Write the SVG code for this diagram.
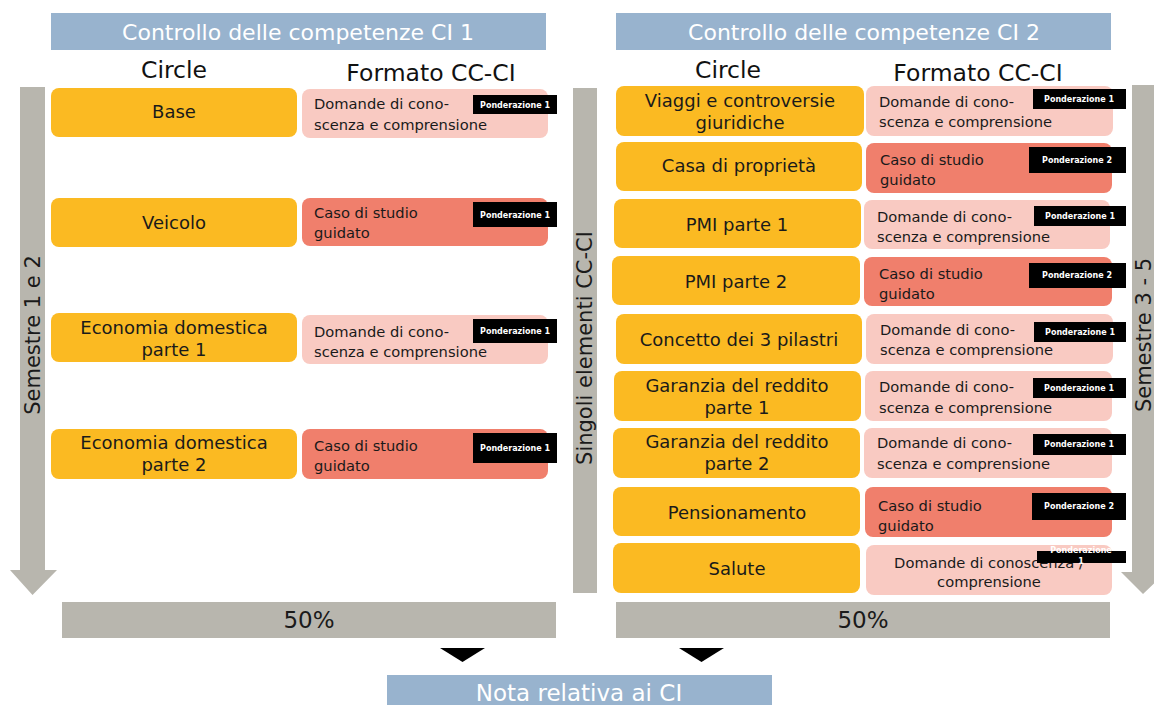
<svg xmlns="http://www.w3.org/2000/svg" width="1154" height="705" viewBox="0 0 1154 705">
<style>
.hdr{fill:#98B3CE}
.hdrt{font-family:"DejaVu Sans",sans-serif;font-size:22px;fill:#ffffff;text-anchor:middle}
.col{font-family:"DejaVu Sans",sans-serif;font-size:23.5px;fill:#111;text-anchor:middle}
.or{fill:#FBBA22}
.pk{fill:#F9CAC2}
.sa{fill:#F07F6C}
.ot{font-family:"DejaVu Sans",sans-serif;font-size:18px;fill:#1a1a1a;text-anchor:middle}
.pt{font-family:"DejaVu Sans",sans-serif;font-size:14.7px;fill:#1a1a1a}
.tag{fill:#000}
.tt{font-family:"DejaVu Sans",sans-serif;font-size:8px;font-weight:bold;fill:#fff;text-anchor:middle}
.gr{fill:#B8B6AE}
.vt{font-family:"DejaVu Sans",sans-serif;font-size:21px;fill:#1a1a1a;text-anchor:middle}
.big{font-family:"DejaVu Sans",sans-serif;font-size:23px;fill:#1a1a1a;text-anchor:middle}
.nt{font-family:"DejaVu Sans",sans-serif;font-size:23px;fill:#ffffff;text-anchor:middle}
</style>

<g id="background-arrows">
  <polygon class="gr" points="20,87 45,87 45,570 57,570 32.5,595 10,570 20,570"/>
  <rect class="gr" x="573" y="88" width="24" height="505"/>
  <polygon class="gr" points="1132,85 1155,85 1155,572 1166,572 1143,594 1121,572 1132,572"/>
  <text class="vt" transform="translate(40,335) rotate(-90)">Semestre 1 e 2</text>
  <text class="vt" transform="translate(592,348) rotate(-90)">Singoli elementi CC-CI</text>
  <text class="vt" transform="translate(1151,335) rotate(-90)">Semestre 3 - 5</text>
</g>

<g id="header-ci1">
  <rect class="hdr" x="51" y="13" width="495" height="37"/>
  <text class="hdrt" x="298" y="40">Controllo delle competenze CI 1</text>
  <text class="col" x="174" y="78">Circle</text>
  <text class="col" x="431" y="81">Formato CC-CI</text>
</g>
<g id="header-ci2">
  <rect class="hdr" x="616" y="13" width="495" height="37"/>
  <text class="hdrt" x="864" y="40">Controllo delle competenze CI 2</text>
  <text class="col" x="728" y="78">Circle</text>
  <text class="col" x="978" y="81">Formato CC-CI</text>
</g>

<!-- CI 1 rows -->
<g id="ci1-base">
  <rect class="or" x="51" y="88" width="246" height="49" rx="8"/>
  <text class="ot" x="174" y="118">Base</text>
  <rect class="pk" x="302" y="89" width="246" height="49" rx="8"/>
  <text class="pt" x="314" y="109">Domande di cono-</text>
  <text class="pt" x="314" y="130">scenza e comprensione</text>
  <rect class="tag" x="473" y="95" width="84" height="19"/>
  <text class="tt" x="515" y="108">Ponderazione 1</text>
</g>
<g id="ci1-veicolo">
  <rect class="or" x="51" y="198" width="246" height="49" rx="8"/>
  <text class="ot" x="174" y="229">Veicolo</text>
  <rect class="sa" x="302" y="198" width="246" height="48" rx="8"/>
  <text class="pt" x="314" y="218">Caso di studio</text>
  <text class="pt" x="314" y="238">guidato</text>
  <rect class="tag" x="473" y="202" width="84" height="25"/>
  <text class="tt" x="515" y="218">Ponderazione 1</text>
</g>
<g id="ci1-eco1">
  <rect class="or" x="51" y="313" width="246" height="49" rx="8"/>
  <text class="ot" x="174" y="334">Economia domestica</text>
  <text class="ot" x="174" y="356">parte 1</text>
  <rect class="pk" x="302" y="315" width="246" height="49" rx="8"/>
  <text class="pt" x="314" y="337">Domande di cono-</text>
  <text class="pt" x="314" y="357">scenza e comprensione</text>
  <rect class="tag" x="473" y="319" width="84" height="24"/>
  <text class="tt" x="515" y="334">Ponderazione 1</text>
</g>
<g id="ci1-eco2">
  <rect class="or" x="51" y="429" width="246" height="50" rx="8"/>
  <text class="ot" x="174" y="449">Economia domestica</text>
  <text class="ot" x="174" y="471">parte 2</text>
  <rect class="sa" x="302" y="429" width="246" height="50" rx="8"/>
  <text class="pt" x="314" y="451">Caso di studio</text>
  <text class="pt" x="314" y="471">guidato</text>
  <rect class="tag" x="473" y="433" width="84" height="30"/>
  <text class="tt" x="515" y="451">Ponderazione 1</text>
</g>

<!-- CI 2 rows -->
<g id="ci2-viaggi">
  <rect class="or" x="616" y="86" width="248" height="50" rx="8"/>
  <text class="ot" x="740" y="107">Viaggi e controversie</text>
  <text class="ot" x="740" y="129">giuridiche</text>
  <rect class="pk" x="866" y="86" width="247" height="50" rx="8"/>
  <text class="pt" x="879" y="107">Domande di cono-</text>
  <text class="pt" x="879" y="127">scenza e comprensione</text>
  <rect class="tag" x="1033" y="89" width="93" height="20"/>
  <text class="tt" x="1079" y="102">Ponderazione 1</text>
</g>
<g id="ci2-casa">
  <rect class="or" x="616" y="142" width="246" height="49" rx="8"/>
  <text class="ot" x="739" y="172">Casa di proprietà</text>
  <rect class="sa" x="866" y="143" width="246" height="50" rx="8"/>
  <text class="pt" x="880" y="165">Caso di studio</text>
  <text class="pt" x="880" y="185">guidato</text>
  <rect class="tag" x="1029" y="147" width="97" height="26"/>
  <text class="tt" x="1077" y="163">Ponderazione 2</text>
</g>
<g id="ci2-pmi1">
  <rect class="or" x="614" y="199" width="247" height="49" rx="8"/>
  <text class="ot" x="737" y="231">PMI parte 1</text>
  <rect class="pk" x="864" y="200" width="246" height="49" rx="8"/>
  <text class="pt" x="877" y="222">Domande di cono-</text>
  <text class="pt" x="877" y="242">scenza e comprensione</text>
  <rect class="tag" x="1034" y="206" width="92" height="20"/>
  <text class="tt" x="1080" y="219">Ponderazione 1</text>
</g>
<g id="ci2-pmi2">
  <rect class="or" x="612" y="256" width="248" height="49" rx="8"/>
  <text class="ot" x="736" y="288">PMI parte 2</text>
  <rect class="sa" x="864" y="257" width="248" height="49" rx="8"/>
  <text class="pt" x="879" y="279">Caso di studio</text>
  <text class="pt" x="879" y="299">guidato</text>
  <rect class="tag" x="1029" y="263" width="97" height="25"/>
  <text class="tt" x="1077" y="278">Ponderazione 2</text>
</g>
<g id="ci2-concetto">
  <rect class="or" x="616" y="314" width="246" height="50" rx="8"/>
  <text class="ot" x="739" y="346">Concetto dei 3 pilastri</text>
  <rect class="pk" x="866" y="314" width="247" height="50" rx="8"/>
  <text class="pt" x="880" y="335">Domande di cono-</text>
  <text class="pt" x="880" y="355">scenza e comprensione</text>
  <rect class="tag" x="1034" y="322" width="92" height="20"/>
  <text class="tt" x="1080" y="335">Ponderazione 1</text>
</g>
<g id="ci2-garanzia1">
  <rect class="or" x="614" y="371" width="247" height="50" rx="8"/>
  <text class="ot" x="737" y="392">Garanzia del reddito</text>
  <text class="ot" x="737" y="414">parte 1</text>
  <rect class="pk" x="865" y="371" width="247" height="50" rx="8"/>
  <text class="pt" x="879" y="392">Domande di cono-</text>
  <text class="pt" x="879" y="413">scenza e comprensione</text>
  <rect class="tag" x="1033" y="378" width="93" height="20"/>
  <text class="tt" x="1079" y="391">Ponderazione 1</text>
</g>
<g id="ci2-garanzia2">
  <rect class="or" x="613" y="428" width="247" height="50" rx="8"/>
  <text class="ot" x="737" y="448">Garanzia del reddito</text>
  <text class="ot" x="737" y="470">parte 2</text>
  <rect class="pk" x="864" y="428" width="248" height="50" rx="8"/>
  <text class="pt" x="877" y="448">Domande di cono-</text>
  <text class="pt" x="877" y="469">scenza e comprensione</text>
  <rect class="tag" x="1033" y="434" width="93" height="21"/>
  <text class="tt" x="1079" y="447">Ponderazione 1</text>
</g>
<g id="ci2-pensionamento">
  <rect class="or" x="613" y="487" width="247" height="49" rx="8"/>
  <text class="ot" x="737" y="519">Pensionamento</text>
  <rect class="sa" x="865" y="487" width="247" height="50" rx="8"/>
  <text class="pt" x="878" y="511">Caso di studio</text>
  <text class="pt" x="878" y="531">guidato</text>
  <rect class="tag" x="1032" y="493" width="94" height="27"/>
  <text class="tt" x="1079" y="509">Ponderazione 2</text>
</g>
<g id="ci2-salute">
  <rect class="or" x="613" y="543" width="247" height="50" rx="8"/>
  <text class="ot" x="737" y="575">Salute</text>
  <rect class="pk" x="866" y="545" width="246" height="50" rx="8"/>
  <text class="pt" x="989" y="568" text-anchor="middle">Domande di conoscenza /</text>
  <text class="pt" x="989" y="587" text-anchor="middle">comprensione</text>
  <rect class="tag" x="1037" y="551" width="89" height="12"/>
  <text class="tt" x="1081" y="553">Ponderazione</text>
  <text class="tt" x="1081" y="564">1</text>
</g>

<g id="totals">
  <rect class="gr" x="62" y="602" width="494" height="36"/>
  <text class="big" x="309" y="628">50%</text>
  <rect class="gr" x="616" y="602" width="494" height="36"/>
  <text class="big" x="863" y="628">50%</text>
</g>

<g id="connectors">
  <polygon points="440,648 485,648 462.5,662" fill="#000"/>
  <polygon points="679,648 724,648 701.5,662" fill="#000"/>
</g>

<g id="nota">
  <rect class="hdr" x="387" y="675" width="385" height="30"/>
  <text class="nt" x="579" y="701">Nota relativa ai CI</text>
</g>
</svg>
